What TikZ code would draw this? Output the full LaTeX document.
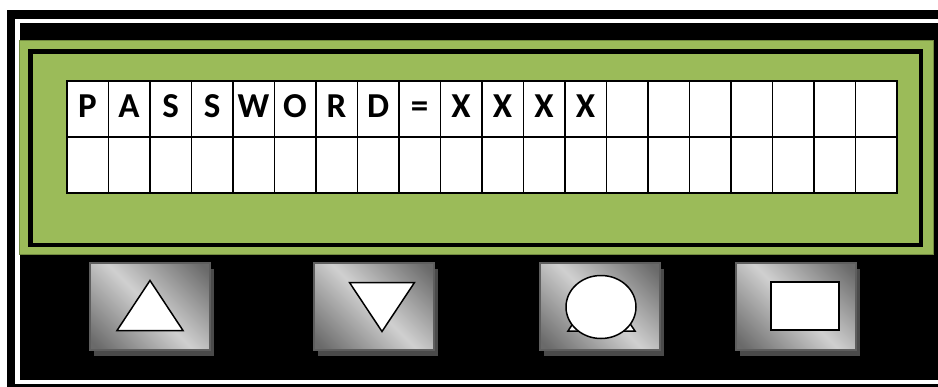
\documentclass[tikz,border=0pt]{standalone}
\usepackage{fontspec}
\setmainfont{Carlito}
\usetikzlibrary{shadows}
\definecolor{lcdgreen}{HTML}{9BBB59}
\definecolor{lcdedge}{HTML}{71893F}
\definecolor{btndark}{HTML}{6A6A6A}
\definecolor{btnlight}{HTML}{D0D0D0}
\definecolor{btnedge}{HTML}{5E5E5E}
\definecolor{btnshadow}{HTML}{4A4A4A}
\pgfdeclarehorizontalshading{btnshade}{100bp}{color(0bp)=(btndark); color(18bp)=(btndark); color(50bp)=(btnlight); color(82bp)=(btndark); color(100bp)=(btndark)}
\tikzset{
  cell/.style={draw=black, fill=white, line width=1.6pt, minimum width=41.5pt,
    minimum height=56pt, inner sep=0pt, anchor=north west},
  letter/.style={anchor=base, inner sep=0pt, font=\fontsize{35}{42}\selectfont\bfseries},
  btn/.style={minimum width=120pt, minimum height=87pt, inner sep=0pt,
    shading=btnshade, shading angle=45, draw=btnedge, line width=2pt,
    general shadow={fill=btnshadow, shadow xshift=4pt, shadow yshift=-6pt}},
  sym/.style={draw=black, fill=white, line width=1.5pt}
}
\begin{document}
\begin{tikzpicture}[x=1pt,y=-1pt,line join=miter]
  \useasboundingbox (0,0) rectangle (938,386);
  \clip (0,0) rectangle (938,386);
  % housing
  \fill[black] (7,10) rectangle (960,400);
  \draw[white, line width=4.5pt] (17.5,21) rectangle (960,382);
  % lcd panel
  \draw[lcdedge, fill=lcdgreen, line width=0.8pt] (19,40) rectangle (933,254);
  \draw[black, line width=4.5pt] (30.5,51.5) rectangle (921,245);
  \foreach \row in {1,2}
    \foreach \col in {1,...,20}
      \node[cell] (c\col-\row) at ({66+41.5*(\col-1)},{80+56*(\row-1)}) {};
  \foreach \ch [count=\i] in {P,A,S,S,W,O,R,D,=,X,X,X,X}
    \node[letter] (t\i) at ([yshift=-9pt]c\i-1.center) {\ch};
  % keys
  \node[btn] (btnup) at (150,306.5) {};
  \node[btn] (btndown) at (374,306.5) {};
  \node[btn] (btnenter) at (600,306.5) {};
  \node[btn] (btnesc) at (796,306.5) {};
  \draw[sym] ([shift={(0,-26)}]btnup.center) -- ([shift={(33,24)}]btnup.center)
    -- ([shift={(-33,24)}]btnup.center) -- cycle;
  \draw[sym] ([shift={(-24.5,-24)}]btndown.center) -- ([shift={(40.5,-24)}]btndown.center)
    -- ([shift={(8,25)}]btndown.center) -- cycle;
  \draw[sym] ([shift={(-32,24.5)}]btnenter.center) -- ([shift={(1,-26)}]btnenter.center)
    -- ([shift={(35,24.5)}]btnenter.center) -- cycle;
  \draw[sym] ([shift={(1,0.5)}]btnenter.center) ellipse [x radius=35, y radius=31.5];
  \draw[sym] ([shift={(-25,-24.5)}]btnesc.center) rectangle ([shift={(43,23.5)}]btnesc.center);
\end{tikzpicture}
\end{document}
